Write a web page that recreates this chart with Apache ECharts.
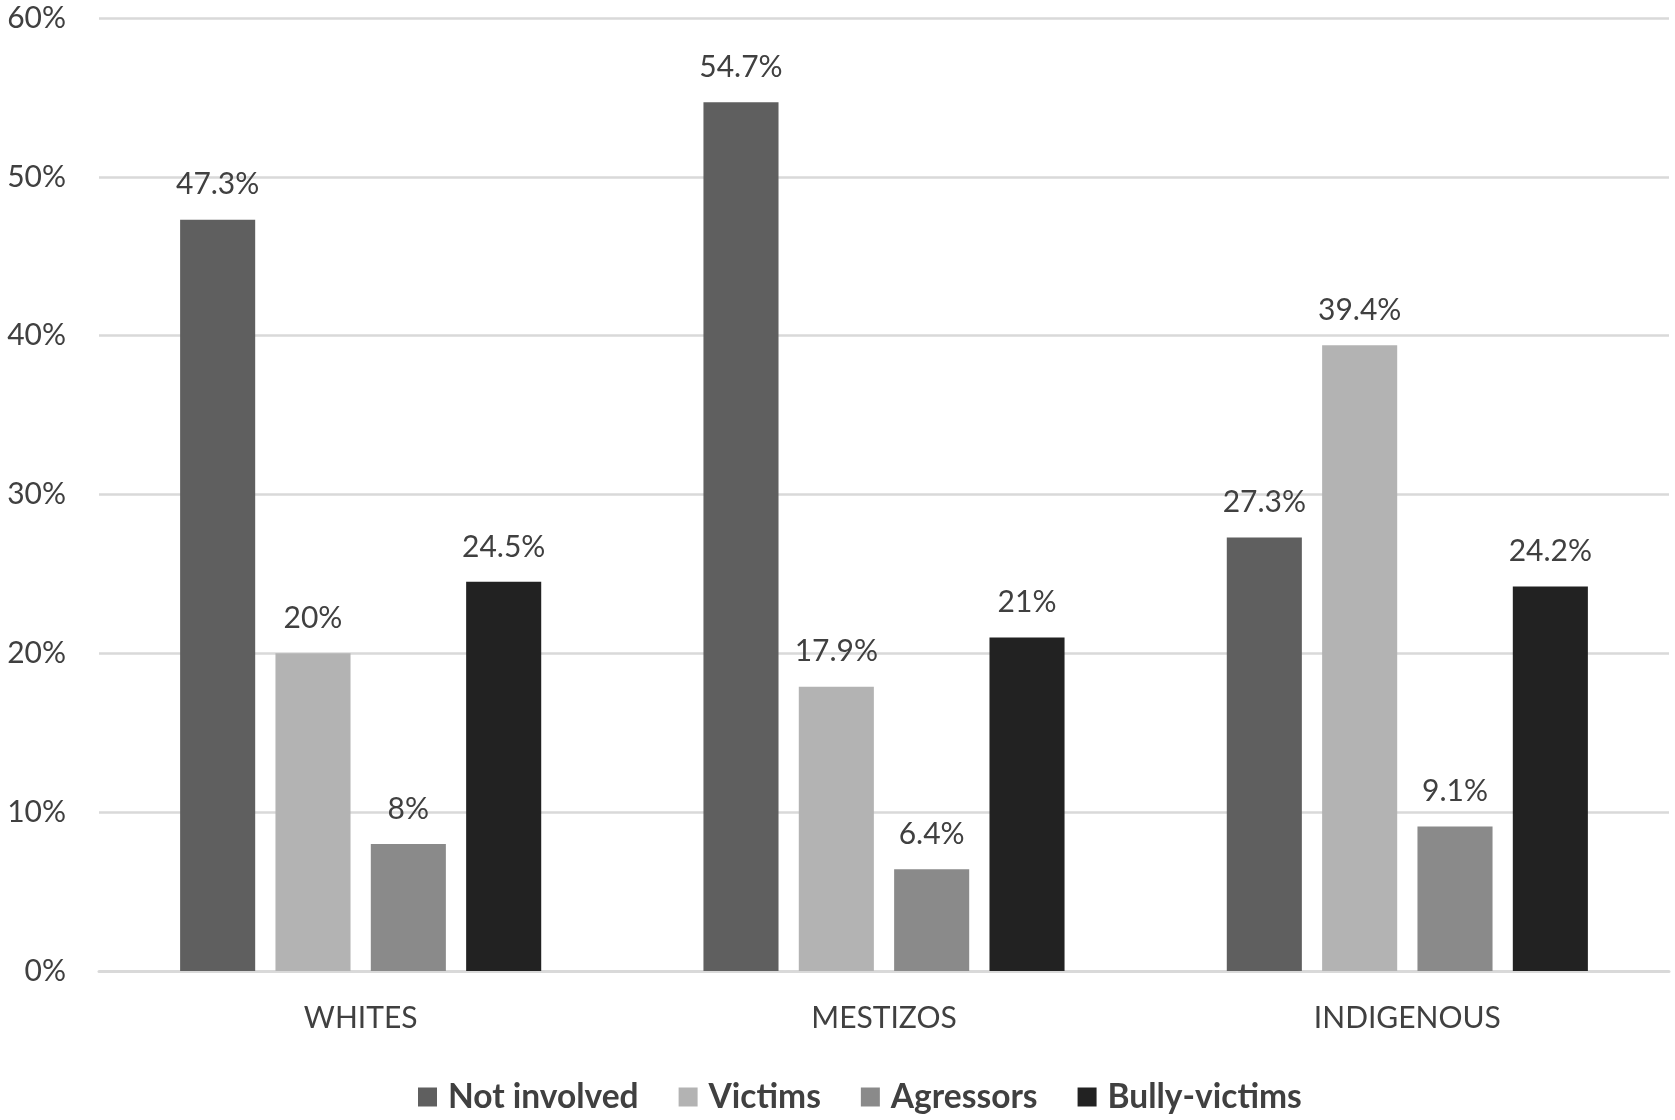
<!DOCTYPE html>
<html>
<head>
<meta charset="utf-8">
<script src="https://cdn.jsdelivr.net/npm/echarts@6/dist/echarts.min.js"></script>
<style>
html,body{margin:0;padding:0;background:#fff;}
#chart{width:1675px;height:1120px;}
</style>
</head>
<body>
<div id="chart"></div>
<script>
const categories = ['WHITES', 'MESTIZOS', 'INDIGENOUS'];
const seriesNames = ['Not involved', 'Victims', 'Agressors', 'Bully-victims'];
const notInvolved = [47.3, 54.7, 27.3];
const victims = [20, 17.9, 39.4];
const agressors = [8, 6.4, 9.1];
const bullyVictims = [24.5, 21, 24.2];
const yTicks = [0, 10, 20, 30, 40, 50, 60];

const colors = ['#5f5f5f', '#b3b3b3', '#8a8a8a', '#222222'];
const values = [notInvolved, victims, agressors, bullyVictims];
const FONT = 'Lato, "Open Sans", sans-serif';

const chart = echarts.init(document.getElementById('chart'));
chart.setOption({
  animation: false,
  backgroundColor: '#ffffff',
  textStyle: { fontFamily: FONT },
  legend: {
    data: seriesNames,
    bottom: 1,
    left: 413,
    itemWidth: 19,
    itemHeight: 19,
    itemGap: 40,
    icon: 'rect',
    textStyle: { fontSize: 33.5, fontWeight: 'bold', color: '#404040', fontFamily: FONT, padding: [0, 0, 0, 6] }
  },
  grid: { left: 99, right: 6, top: 18, bottom: 149, containLabel: false },
  xAxis: {
    type: 'category',
    data: categories,
    axisLine: { lineStyle: { color: '#d9d9d9', width: 3 } },
    axisTick: { show: false },
    axisLabel: { fontSize: 30, color: '#404040', margin: 32, fontFamily: FONT }
  },
  yAxis: {
    type: 'value',
    min: yTicks[0],
    max: yTicks[yTicks.length - 1],
    interval: 10,
    axisLine: { show: false },
    axisTick: { show: false },
    splitLine: { lineStyle: { color: '#d9d9d9', width: 2.5 } },
    axisLabel: { fontSize: 30, color: '#404040', margin: 33, formatter: v => v + '%', fontFamily: FONT }
  },
  series: seriesNames.map((name, i) => ({
    name: name,
    type: 'bar',
    data: values[i],
    barGap: '27%',
    barCategoryGap: '31%',
    itemStyle: { color: colors[i] },
    label: {
      show: true,
      position: 'top',
      distance: 20,
      fontSize: 30,
      color: '#404040',
      fontFamily: FONT,
      formatter: p => p.value + '%'
    }
  }))
});
</script>
</body>
</html>
